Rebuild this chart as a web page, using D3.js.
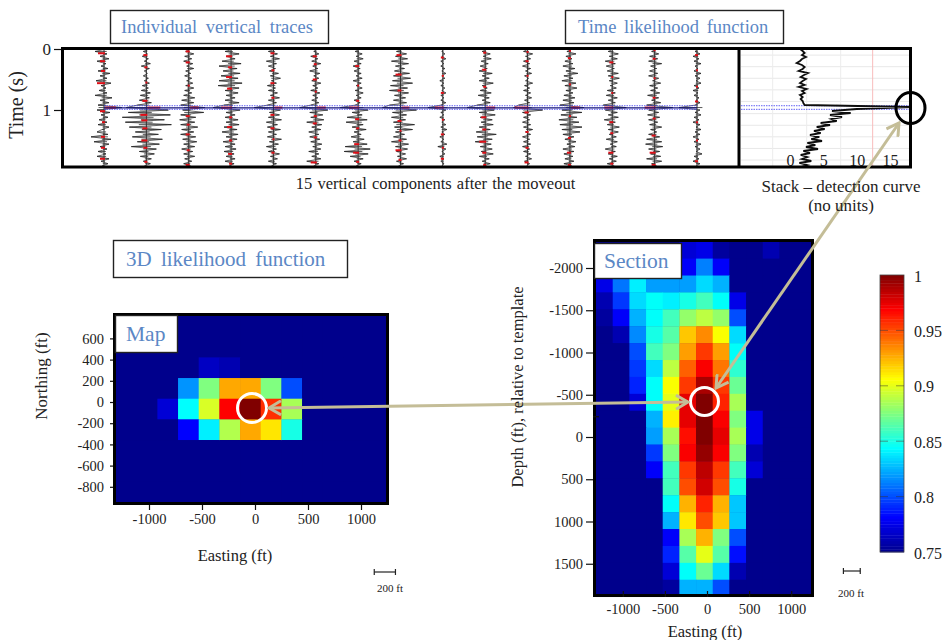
<!DOCTYPE html>
<html>
  <head>
    <meta charset="utf-8">
    <style>
    body {margin:0; background:white;}
    svg {display:block;}
    text {font-family:"Liberation Serif"; fill:#222;}
    .axis path {display:none;}
    .axis line {stroke:#111; stroke-width:1.2;}
    .axis text {font-family:"Liberation Serif"; font-size:14.5px; fill:#222;}
    .title {fill:#5b87c5;}
    </style>
    <script src="https://d3js.org/d3.v7.min.js"></script>
  </head>
  <body>
    <div id="chart"></div>

<script>

  // seismogram amplitudes, one array per trace, sampled every 0.04 s

  var sampleStep = 0.04;

  var trace1 = [2,-9,3,-4,5,-7,2,-3,4,-6,6,-4,3,-8,7,-3,2,-5,3,-9,8,-4,5,-6,18,-7,6,-3,4,-5,3,-6,5,-2,-7,4,-13,7,-10,5,-4,3,-6,2,-7,5,-3,4,-2];
  var trace2 = [3,-3,1,-4,2,-2,4,-5,3,-2,1,-3,2,-2,3,-4,2,-5,4,-6,3,-7,5,-9,-20,22,-18,24,-24,18,-21,25,-17,15,-11,12,-14,16,-9,13,-15,10,-7,8,-6,5,-3,4,-2];
  var trace3 = [2,-3,5,-4,3,-5,4,-2,5,-3,2,-4,3,-2,4,-3,5,-4,3,-5,6,-7,5,-8,16,-6,15,-8,7,-9,6,-8,9,-7,5,-8,7,-6,8,-5,6,-7,4,-5,6,-4,3,-5,2];
  var trace4 = [3,-6,8,-5,4,-9,10,-12,6,-8,9,-10,7,-12,11,-13,8,-6,7,-5,4,-6,8,-7,-18,9,-5,4,-6,7,-5,8,-7,6,-9,7,-5,6,-8,4,-6,5,-7,3,-5,4,-6,3,-2];
  var trace5 = [2,-5,4,-3,6,-7,3,-5,2,-4,5,-3,7,-2,3,-6,2,-5,4,-3,6,-5,3,-6,-19,7,-4,6,-5,8,-7,4,-6,7,-5,3,-6,8,-4,5,-7,3,-5,6,-3,4,-5,3,-2];
  var trace6 = [1,-2,3,-5,2,-4,5,-3,2,-6,4,-2,3,-4,5,-3,2,-5,4,-3,2,-4,3,-5,-16,12,-6,7,-5,8,-9,6,-4,5,-7,3,-6,4,-5,6,-3,5,-7,3,-4,5,-9,3,-2];
  var trace7 = [2,-3,4,-2,5,-4,3,-5,2,-4,3,-2,4,-5,3,-2,4,-3,5,-2,3,-4,2,-3,-18,10,-6,4,-11,9,-12,5,-6,8,-4,3,-7,6,-5,9,-13,12,-14,10,-8,5,-4,3,-2];
  var trace8 = [3,-4,6,-5,7,-9,8,-5,4,-6,9,-7,10,-8,12,-10,7,-11,8,-6,5,-7,6,-11,-18,16,-8,6,-9,5,-7,14,-6,12,-5,4,-7,6,-9,8,-5,7,-4,5,-3,6,-4,3,-2];
  var trace9 = [1,-1,2,-1,3,-2,1,-2,2,-1,3,-1,2,-3,1,-2,2,-1,3,-2,1,-2,3,-2,-15,3,-2,1,-3,2,-1,3,-2,4,-1,2,-3,1,-2,4,-5,3,-1,2,-3,1,-2,1,-1];
  var trace10 = [2,-3,5,-2,6,-4,3,-5,2,-6,7,-3,4,-6,8,-3,2,-5,6,-7,4,-3,5,-8,-18,9,-6,10,-5,7,-4,8,-6,5,-9,11,-8,7,-10,6,-5,7,-4,8,-6,4,-3,5,-2];
  var trace11 = [1,-4,5,-2,3,-4,2,-5,3,-2,4,-3,1,-2,5,-3,2,-4,3,-2,4,-3,2,-9,-14,15,-5,3,-4,2,-5,3,-4,5,-2,3,-5,2,-4,3,-5,2,-4,3,-2,4,-3,2,-1];
  var trace12 = [2,-3,6,-4,2,-5,3,-7,5,-4,8,-6,3,-8,6,-5,7,-4,3,-6,5,-7,4,-10,14,-8,12,-9,7,-11,9,-10,12,-8,10,-7,4,-5,6,-3,5,-7,4,-6,3,-5,4,-6,2];
  var trace13 = [1,-4,6,-3,5,-7,3,-6,2,-5,6,-4,7,-3,5,-2,4,-5,3,-6,5,-4,3,-9,14,-7,5,-4,6,-8,3,-5,7,-4,6,-3,4,-6,5,-2,4,-7,3,-4,5,-3,4,-5,2];
  var trace14 = [2,-3,4,-5,3,-6,7,-4,2,-5,3,-6,4,-2,6,-5,3,-4,5,-7,4,-3,6,-8,18,-6,4,-7,5,-6,3,-5,7,-4,2,-6,5,-8,7,-9,8,-6,5,-4,6,-8,7,-3,2];
  var trace15 = [1,-2,3,-4,2,-3,4,-2,1,-3,4,-2,3,-1,4,-3,2,-4,1,-3,2,-1,3,-2,-18,3,-2,4,-3,2,-4,3,-1,4,-2,3,-4,2,-3,4,-2,3,-1,5,-3,2,-4,3,-1];

  var traces = [trace1, trace2, trace3, trace4, trace5, trace6, trace7, trace8,
                trace9, trace10, trace11, trace12, trace13, trace14, trace15];

  // red overlay, [time, amplitude]

  var red1 = [[.07,-6],[.2,-4],[.36,-3],[.56,-7],[.96,12],[1.02,-4],[1.2,-2],[1.44,-3],[1.62,-3],[1.8,-4]];
  var red2 = [[.1,-3],[.3,-2],[.55,-1],[.85,-4],[.96,14],[1.08,-6],[1.17,-5],[1.3,-4],[1.5,-5],[1.62,-3],[1.85,-2]];
  var red3 = [[.04,-3],[.22,-3],[.6,-1],[.96,10],[1.1,-3],[1.24,-2],[1.4,-3],[1.66,-2],[1.9,-3]];
  var red4 = [[.12,-5],[.3,-3],[.46,-5],[.65,-4],[.96,-10],[1.12,-2],[1.28,-4],[1.5,-2],[1.72,-3],[1.88,-2]];
  var red5 = [[.07,-3],[.35,-2],[.56,-3],[.8,-2],[.96,9],[1.08,-3],[1.3,-3],[1.48,-1],[1.7,-2]];
  var red6 = [[.12,-3],[.25,-2],[.5,-3],[.7,-1],[.96,10],[1.1,-2],[1.22,-3],[1.45,-2],[1.86,-5]];
  var red7 = [[.28,-3],[.6,-1],[.85,-2],[.96,-9],[1.15,-3],[1.3,-2],[1.56,-4],[1.7,-5],[1.85,-2]];
  var red8 = [[.1,-4],[.42,-5],[.68,-3],[.96,9],[1.18,-3],[1.34,-1],[1.5,-2],[1.66,-5],[1.82,-2]];
  var red9 = [[.14,-2],[.44,-1],[.72,-2],[.96,-8],[1.16,-1],[1.4,-2],[1.62,-1],[1.8,-2]];
  var red10 = [[.06,-2],[.34,-3],[.62,-2],[.96,10],[1.12,-4],[1.32,-3],[1.52,-6],[1.7,-3],[1.9,-2]];
  var red11 = [[.05,-1],[.2,-2],[.44,-1],[.96,-13],[1.04,-3],[1.36,-2],[1.62,-2],[1.86,-3]];
  var red12 = [[.03,-1],[.15,-2],[.58,-1],[.96,10],[1.1,-1],[1.46,-2],[1.7,-3],[1.9,-2]];
  var red13 = [[.22,-3],[.46,-1],[.72,-1],[.96,-8],[1.2,-3],[1.38,-2],[1.7,-4],[1.88,-2]];
  var red14 = [[.02,-1],[.16,-2],[.48,-1],[.8,-2],[.96,-10],[1.14,-2],[1.42,-3],[1.7,-5],[1.9,-3]];
  var red15 = [[.1,-2],[.35,-1],[.62,-1],[.86,-2],[1.2,-1],[1.5,-1],[1.84,-2]];

  var redMarks = [red1, red2, red3, red4, red5, red6, red7, red8, red9, red10, red11, red12, red13, red14, red15];

  // stack curve, one value every 2 px of time
  var stackStep = 1 / 30.5;
  var stackValues = [1.5,1.9,2.2,1.8,2.4,1.8,1.5,1.0,1.8,2.2,1.9,1.3,2.7,2.1,1.6,2.4,1.9,1.5,2.2,1.3,2.5,1.8,2.2,1.5,1.9,1.6,1.9,2.0,2.2,18.2,10,6.3,9.1,6,7.8,6.2,7.0,4.6,6.0,4.0,5.2,3.6,4.6,3.0,4.4,3.2,4.8,2.6,3.8,2.4,4.2,2.0,3.0,1.6,2.6,1.8,3.2,1.4,2.6,1.6];

  var stackTicks = [0, 5, 10, 15];
  var stackGridValues = [-2.6, 2.5, 7.6];
  var stackThreshold = 12.4;
  var stackGridTimes = [.1, .29, .48, .67, .86, 1.06, 1.25, 1.44, 1.63, 1.82];
  var eventTimes = [.93, .989];
  var timeTicks = [0, 1];

  // likelihood cells, rows from top to bottom

  var mapValues = [
    [.75,.75,.75,.75,.75,.75,.75,.75,.75,.75,.75,.75,.75],
    [.75,.75,.75,.75,.75,.75,.75,.75,.75,.75,.75,.75,.75],
    [.75,.75,.75,.75,.765,.76,.75,.75,.75,.75,.75,.75,.75],
    [.75,.75,.75,.8175,.875,.9275,.9275,.875,.80,.75,.75,.75,.75],
    [.75,.75,.77,.844,.897,.969,1,.9575,.885,.75,.75,.75,.75],
    [.75,.75,.75,.781,.84,.8875,.9275,.9125,.85,.75,.75,.75,.75],
    [.75,.75,.75,.75,.75,.75,.75,.75,.75,.75,.75,.75,.75],
    [.75,.75,.75,.75,.75,.75,.75,.75,.75,.75,.75,.75,.75],
    [.75,.75,.75,.75,.75,.75,.75,.75,.75,.75,.75,.75,.75]
  ];

  var sectionValues = [
    [.75,.75,.75,.75,.75,.77,.775,.755,.75,.75,.76,.75,.75],
    [.75,.75,.75,.75,.76,.78,.8125,.78,.75,.75,.75,.75,.75],
    [.775,.81,.84,.82,.82,.82,.835,.825,.75,.75,.75,.75,.75],
    [.76,.795,.835,.845,.84,.85,.86,.845,.775,.75,.75,.75,.75],
    [.755,.78,.825,.845,.86,.88,.89,.88,.80,.75,.75,.75,.75],
    [.75,.76,.815,.85,.865,.92,.935,.905,.835,.75,.75,.75,.75],
    [.75,.75,.80,.86,.875,.93,.955,.93,.845,.75,.75,.75,.75],
    [.75,.75,.795,.835,.89,.945,.97,.94,.855,.75,.75,.75,.75],
    [.75,.75,.79,.845,.905,.955,.99,.955,.87,.75,.75,.75,.75],
    [.75,.75,.77,.845,.9,.975,1,.96,.885,.75,.75,.75,.75],
    [.75,.75,.75,.825,.91,.975,1,.97,.875,.775,.75,.75,.75],
    [.75,.75,.75,.82,.885,.965,1,.975,.885,.775,.75,.75,.75],
    [.75,.75,.75,.795,.875,.97,.995,.97,.875,.76,.75,.75,.75],
    [.75,.75,.75,.78,.86,.955,.985,.955,.86,.77,.75,.75,.75],
    [.75,.75,.75,.75,.86,.95,.98,.95,.85,.75,.75,.75,.75],
    [.75,.75,.75,.75,.845,.925,.96,.925,.83,.75,.75,.75,.75],
    [.75,.75,.75,.75,.825,.912,.95,.92,.83,.75,.75,.75,.75],
    [.75,.75,.75,.75,.78,.885,.925,.875,.80,.75,.75,.75,.75],
    [.75,.75,.75,.75,.79,.865,.9,.865,.785,.75,.75,.75,.75],
    [.75,.75,.75,.75,.77,.845,.87,.835,.76,.75,.75,.75,.75],
    [.75,.75,.75,.75,.755,.825,.825,.80,.75,.75,.75,.75,.75]
  ];

  var mapXTicks = [-1000, -500, 0, 500, 1000];
  var mapYTicks = [600, 400, 200, 0, -200, -400, -600, -800];
  var sectionXTicks = [-1000, -500, 0, 500, 1000];
  var sectionYTicks = [-2000, -1500, -1000, -500, 0, 500, 1000, 1500];
  var colorTicks = [.75, .8, .85, .9, .95, 1];

  var tan = "#c4bd97";

  var svg = d3.select("#chart")
    .append("svg")
    .attr("width", 945)
    .attr("height", 640);

  var defs = svg.append("defs");

  defs.append("filter").attr("id", "soft")
    .append("feGaussianBlur").attr("stdDeviation", 0.45);

  defs.append("marker")
    .attr("id", "head")
    .attr("viewBox", "-13 -8 15 16")
    .attr("refX", 0)
    .attr("refY", 0)
    .attr("markerUnits", "userSpaceOnUse")
    .attr("markerWidth", 15)
    .attr("markerHeight", 16)
    .attr("orient", "auto-start-reverse")
    .append("path")
    .attr("d", "M-12,-7 L0,0 L-12,7")
    .attr("fill", "none")
    .attr("stroke", tan)
    .attr("stroke-width", 3);

  var jet = d3.scaleLinear()
    .domain([.75, .78125, .84375, .90625, .96875, 1])
    .range(["#00008c", "#0000ff", "#00ffff", "#ffff00", "#ff0000", "#800000"]);

  // plain integers with a short hyphen, as in the figure
  function plain(d) { return String(d); }

  // top panel

  var timeY = d3.scaleLinear().domain([0, 1]).range([49, 110]);
  var traceX = d3.scalePoint().domain(d3.range(traces.length)).range([104, 697]);
  var ampX = d3.scaleLinear().domain([-25, 25]).range([-25, 25]);
  var stackX = d3.scaleLinear().domain([0, 15]).range([790, 890]);

  var topPanel = svg.append("g");

  var stackGrid = topPanel.append("g");
  stackGrid.selectAll("line.h").data(stackGridTimes).enter().append("line")
    .attr("class", "h")
    .attr("x1", 741).attr("x2", 909)
    .attr("y1", timeY).attr("y2", timeY)
    .attr("stroke", "#e8e8e8");
  stackGrid.selectAll("line.v").data(stackGridValues).enter().append("line")
    .attr("class", "v")
    .attr("x1", stackX).attr("x2", stackX)
    .attr("y1", 50).attr("y2", 166)
    .attr("stroke", "#ececec");
  stackGrid.append("line")
    .attr("x1", stackX(stackThreshold)).attr("x2", stackX(stackThreshold))
    .attr("y1", 50).attr("y2", 166)
    .attr("stroke", "#f8bcbc");

  var traceGroup = topPanel.append("g").attr("filter", "url(#soft)");

  var traceLine = d3.line()
    .x(function(d) { return ampX(d); })
    .y(function(d, i) { return timeY(i * sampleStep); });

  var traceG = traceGroup.selectAll(".trace")
    .data(traces)
    .enter().append("g")
    .attr("class", "trace")
    .attr("transform", function(d, i) { return "translate(" + traceX(i) + ",0)"; });

  // the wiggle is finer than the screen, so it reads as hairs off a dark spine
  traceG.append("path")
    .attr("d", traceLine)
    .attr("fill", "none")
    .attr("stroke", "#333")
    .attr("stroke-opacity", 0.7)
    .attr("stroke-width", 1);

  traceG.selectAll(".hair")
    .data(function(d) { return d; })
    .enter().append("line")
    .attr("class", "hair")
    .attr("x1", function(d) { return ampX(-d * 0.3); })
    .attr("x2", function(d) { return ampX(d); })
    .attr("y1", function(d, i) { return timeY(i * sampleStep); })
    .attr("y2", function(d, i) { return timeY(i * sampleStep); })
    .attr("stroke", "#222")
    .attr("stroke-opacity", 0.75)
    .attr("stroke-width", 1);

  traceG.append("line")
    .attr("x1", 0).attr("x2", 0)
    .attr("y1", timeY(0)).attr("y2", timeY(1.9))
    .attr("stroke", "#333")
    .attr("stroke-width", 1);

  traceG.selectAll(".red")
    .data(function(d, i) { return redMarks[i]; })
    .enter().append("line")
    .attr("class", "red")
    .attr("x1", 1)
    .attr("x2", function(d) { return ampX(d[1]); })
    .attr("y1", function(d) { return timeY(d[0]); })
    .attr("y2", function(d) { return timeY(d[0]); })
    .attr("stroke", "#e01018")
    .attr("stroke-width", 2);

  traceGroup.append("line")
    .attr("x1", traceX(0)).attr("x2", traceX(14))
    .attr("y1", timeY(.965)).attr("y2", timeY(.965))
    .attr("stroke", "#16167a")
    .attr("stroke-width", 1.4);

  topPanel.selectAll(".event").data(eventTimes).enter().append("line")
    .attr("class", "event")
    .attr("x1", traceX(0)).attr("x2", traceX(14))
    .attr("y1", timeY).attr("y2", timeY)
    .attr("stroke", "#3a3af0")
    .attr("stroke-width", 0.8)
    .attr("stroke-dasharray", "1.5,1");
  topPanel.selectAll(".event2").data(eventTimes).enter().append("line")
    .attr("class", "event2")
    .attr("x1", 741).attr("x2", 909)
    .attr("y1", timeY).attr("y2", timeY)
    .attr("stroke", "#3a3af0")
    .attr("stroke-width", 0.8)
    .attr("stroke-dasharray", "1.5,1");

  var stackLine = d3.line()
    .x(function(d) { return stackX(d); })
    .y(function(d, i) { return timeY(i * stackStep); });

  topPanel.append("path")
    .datum(stackValues)
    .attr("d", stackLine)
    .attr("fill", "none")
    .attr("stroke", "#111")
    .attr("stroke-width", 1.8)
    .attr("filter", "url(#soft)");

  var stackAxis = d3.axisBottom(stackX).tickValues(stackTicks).tickSize(0);
  topPanel.append("g")
    .attr("class", "axis")
    .attr("transform", "translate(0,152)")
    .call(stackAxis)
    .selectAll("text").style("font-size", "16px");

  topPanel.append("rect")
    .attr("x", 62.5).attr("y", 48.5)
    .attr("width", 848).attr("height", 118.5)
    .attr("fill", "none")
    .attr("stroke", "#000")
    .attr("stroke-width", 3);
  topPanel.append("line")
    .attr("x1", 739).attr("x2", 739)
    .attr("y1", 48).attr("y2", 167)
    .attr("stroke", "#000")
    .attr("stroke-width", 3);

  var timeAxis = d3.axisLeft(timeY).tickValues(timeTicks).tickFormat(plain).tickSize(7).tickPadding(3);
  topPanel.append("g")
    .attr("class", "axis")
    .attr("transform", "translate(61,0)")
    .call(timeAxis)
    .selectAll("text").style("font-size", "17px");

  // heat panels

  function heatPanel(values, x, y, xStart, xCell, yStart, yCell) {
    var g = svg.append("g").attr("filter", "url(#soft)");
    values.forEach(function(row, r) {
      g.selectAll(".r" + r)
        .data(row)
        .enter().append("rect")
        .attr("class", "r" + r)
        .attr("x", function(d, c) { return x(xStart + c * xCell); })
        .attr("y", y(yStart + r * yCell))
        .attr("width", x(xCell) - x(0) + 0.4)
        .attr("height", Math.abs(y(yCell) - y(0)) + 0.4)
        .attr("fill", function(d) { return jet(d); });
    });
  }

  var mapX = d3.scaleLinear().domain([-1000, 1000]).range([149, 361]);
  var mapY = d3.scaleLinear().domain([0, 1000]).range([402, 296]);
  var sectionX = d3.scaleLinear().domain([-1000, 1000]).range([622.8, 791.2]);
  var sectionY = d3.scaleLinear().domain([0, 1000]).range([437, 521.5]);

  svg.append("rect").attr("x", 114).attr("y", 314).attr("width", 274).attr("height", 190).attr("fill", "#00008c");
  svg.append("rect").attr("x", 594).attr("y", 240).attr("width", 219).attr("height", 357).attr("fill", "#00008c");

  heatPanel(mapValues, mapX, mapY, -1311, 195, 811, -195);
  heatPanel(sectionValues, sectionX, sectionY, -1318, 198, -2311, 200);

  svg.append("rect")
    .attr("x", 114.5).attr("y", 314.5).attr("width", 273).attr("height", 189)
    .attr("fill", "none").attr("stroke", "#000").attr("stroke-width", 3);
  svg.append("rect")
    .attr("x", 594.5).attr("y", 240.5).attr("width", 218).attr("height", 355)
    .attr("fill", "none").attr("stroke", "#000").attr("stroke-width", 3);

  svg.append("g")
    .attr("class", "axis")
    .attr("transform", "translate(0,505)")
    .call(d3.axisBottom(mapX).tickValues(mapXTicks).tickFormat(plain).tickSize(5).tickPadding(4));
  svg.append("g")
    .attr("class", "axis")
    .attr("transform", "translate(113,0)")
    .call(d3.axisLeft(mapY).tickValues(mapYTicks).tickFormat(plain).tickSize(3).tickPadding(6));

  svg.append("g")
    .attr("class", "axis")
    .attr("transform", "translate(0,597)")
    .call(d3.axisBottom(sectionX).tickValues(sectionXTicks).tickFormat(plain).tickSize(-6).tickPadding(7));
  svg.append("g")
    .attr("class", "axis")
    .attr("transform", "translate(593,0)")
    .call(d3.axisLeft(sectionY).tickValues(sectionYTicks).tickFormat(plain).tickSize(7).tickPadding(3));

  // the odd extra tick on the section
  svg.append("line")
    .attr("x1", 593).attr("x2", 599)
    .attr("y1", sectionY(-240)).attr("y2", sectionY(-240))
    .attr("stroke", "#111").attr("stroke-width", 1.2);

  // colour bar

  var colorY = d3.scaleLinear().domain([.75, 1]).range([552, 275]);
  var colorLevels = d3.range(.75, 1, .0025);

  svg.append("g").selectAll("rect")
    .data(colorLevels)
    .enter().append("rect")
    .attr("x", 880)
    .attr("width", 24)
    .attr("y", function(d) { return colorY(d + .0025); })
    .attr("height", colorY(.75) - colorY(.7525) + 0.4)
    .attr("fill", function(d) { return jet(d + .00125); });

  svg.append("rect")
    .attr("x", 880).attr("y", 275).attr("width", 24).attr("height", 277)
    .attr("fill", "none").attr("stroke", "#444").attr("stroke-width", 0.8);

  var colorAxis = d3.axisRight(colorY)
    .tickValues(colorTicks)
    .tickFormat(plain)
    .tickSize(0)
    .tickPadding(10);

  var colorG = svg.append("g")
    .attr("class", "axis")
    .attr("transform", "translate(904,1)")
    .call(colorAxis);
  colorG.selectAll("text").style("font-size", "16px");

  svg.selectAll(".colordash")
    .data(colorTicks.slice(1, 5))
    .enter().append("line")
    .attr("class", "colordash")
    .attr("x1", 880).attr("x2", 904)
    .attr("y1", colorY).attr("y2", colorY)
    .attr("stroke", "#333")
    .attr("stroke-opacity", 0.5)
    .attr("stroke-dasharray", "8,8");

  // arrows and circles

  svg.append("ellipse")
    .attr("cx", 910.5).attr("cy", 108).attr("rx", 14.5).attr("ry", 15.5)
    .attr("fill", "none").attr("stroke", "#000").attr("stroke-width", 3);
  svg.append("circle")
    .attr("cx", 252).attr("cy", 408).attr("r", 14.5)
    .attr("fill", "none").attr("stroke", "white").attr("stroke-width", 3);
  svg.append("circle")
    .attr("cx", 704.5).attr("cy", 401.5).attr("r", 14)
    .attr("fill", "none").attr("stroke", "white").attr("stroke-width", 3);

  svg.append("line")
    .attr("x1", 899).attr("y1", 123).attr("x2", 716).attr("y2", 388)
    .attr("stroke", tan).attr("stroke-width", 3)
    .attr("marker-start", "url(#head)").attr("marker-end", "url(#head)");
  svg.append("line")
    .attr("x1", 269).attr("y1", 408).attr("x2", 688).attr("y2", 402)
    .attr("stroke", tan).attr("stroke-width", 3)
    .attr("marker-start", "url(#head)").attr("marker-end", "url(#head)");

  // scale bars

  function scaleBar(x, xFrom, xTo, y, labelX, labelY) {
    svg.append("line")
      .attr("x1", x(xFrom)).attr("x2", x(xTo))
      .attr("y1", y).attr("y2", y)
      .attr("stroke", "#222").attr("stroke-width", 1.2);
    [xFrom, xTo].forEach(function(v) {
      svg.append("line")
        .attr("x1", x(v)).attr("x2", x(v))
        .attr("y1", y - 3).attr("y2", y + 3)
        .attr("stroke", "#222").attr("stroke-width", 1.2);
    });
    svg.append("text")
      .attr("x", labelX).attr("y", labelY)
      .attr("text-anchor", "middle")
      .style("font-size", "11px")
      .text("200 ft");
  }

  scaleBar(mapX, 1125, 1325, 572, 390, 592);
  scaleBar(sectionX, 1620, 1820, 571, 851, 597);

  // label boxes

  function labelBox(x, y, w, h, label, size, spacing, textX) {
    svg.append("rect")
      .attr("x", x).attr("y", y).attr("width", w).attr("height", h)
      .attr("fill", "white").attr("stroke", "#222").attr("stroke-width", 1.4);
    svg.append("text")
      .attr("class", "title")
      .attr("x", textX)
      .attr("y", y + h / 2 + size * 0.32)
      .style("font-size", size + "px")
      .style("word-spacing", spacing + "px")
      .text(label);
  }

  labelBox(110.5, 10.5, 218, 33, "Individual vertical traces", 18.5, 4, 121);
  labelBox(565.5, 10.5, 218, 33, "Time likelihood function", 18.5, 3, 578);
  labelBox(113.5, 240.5, 234, 37, "3D likelihood function", 21, 4, 126);
  labelBox(115.5, 315.5, 62, 37, "Map", 21.5, 0, 126);
  labelBox(594.5, 243.5, 87, 35, "Section", 21.5, 0, 604);

  // free text

  function note(x, y, label, size, rotate, spacing) {
    var t = svg.append("text")
      .attr("text-anchor", "middle")
      .style("font-size", size + "px")
      .style("word-spacing", (spacing || 0) + "px")
      .text(label);
    if (rotate) {
      t.attr("transform", "translate(" + x + "," + y + ") rotate(-90)");
    } else {
      t.attr("x", x).attr("y", y);
    }
  }

  note(23, 105, "Time (s)", 20, true);
  note(435.5, 189, "15 vertical components after the moveout", 16.5, false, 1);
  note(841, 192, "Stack \u2013 detection curve", 17);
  note(841, 211, "(no units)", 17);
  note(47, 376, "Northing (ft)", 17, true);
  note(235, 561, "Easting (ft)", 16.5);
  note(523, 387, "Depth (ft), relative to template", 16.5, true);
  note(705, 637, "Easting (ft)", 16.5);

</script>
  </body>
</html>
